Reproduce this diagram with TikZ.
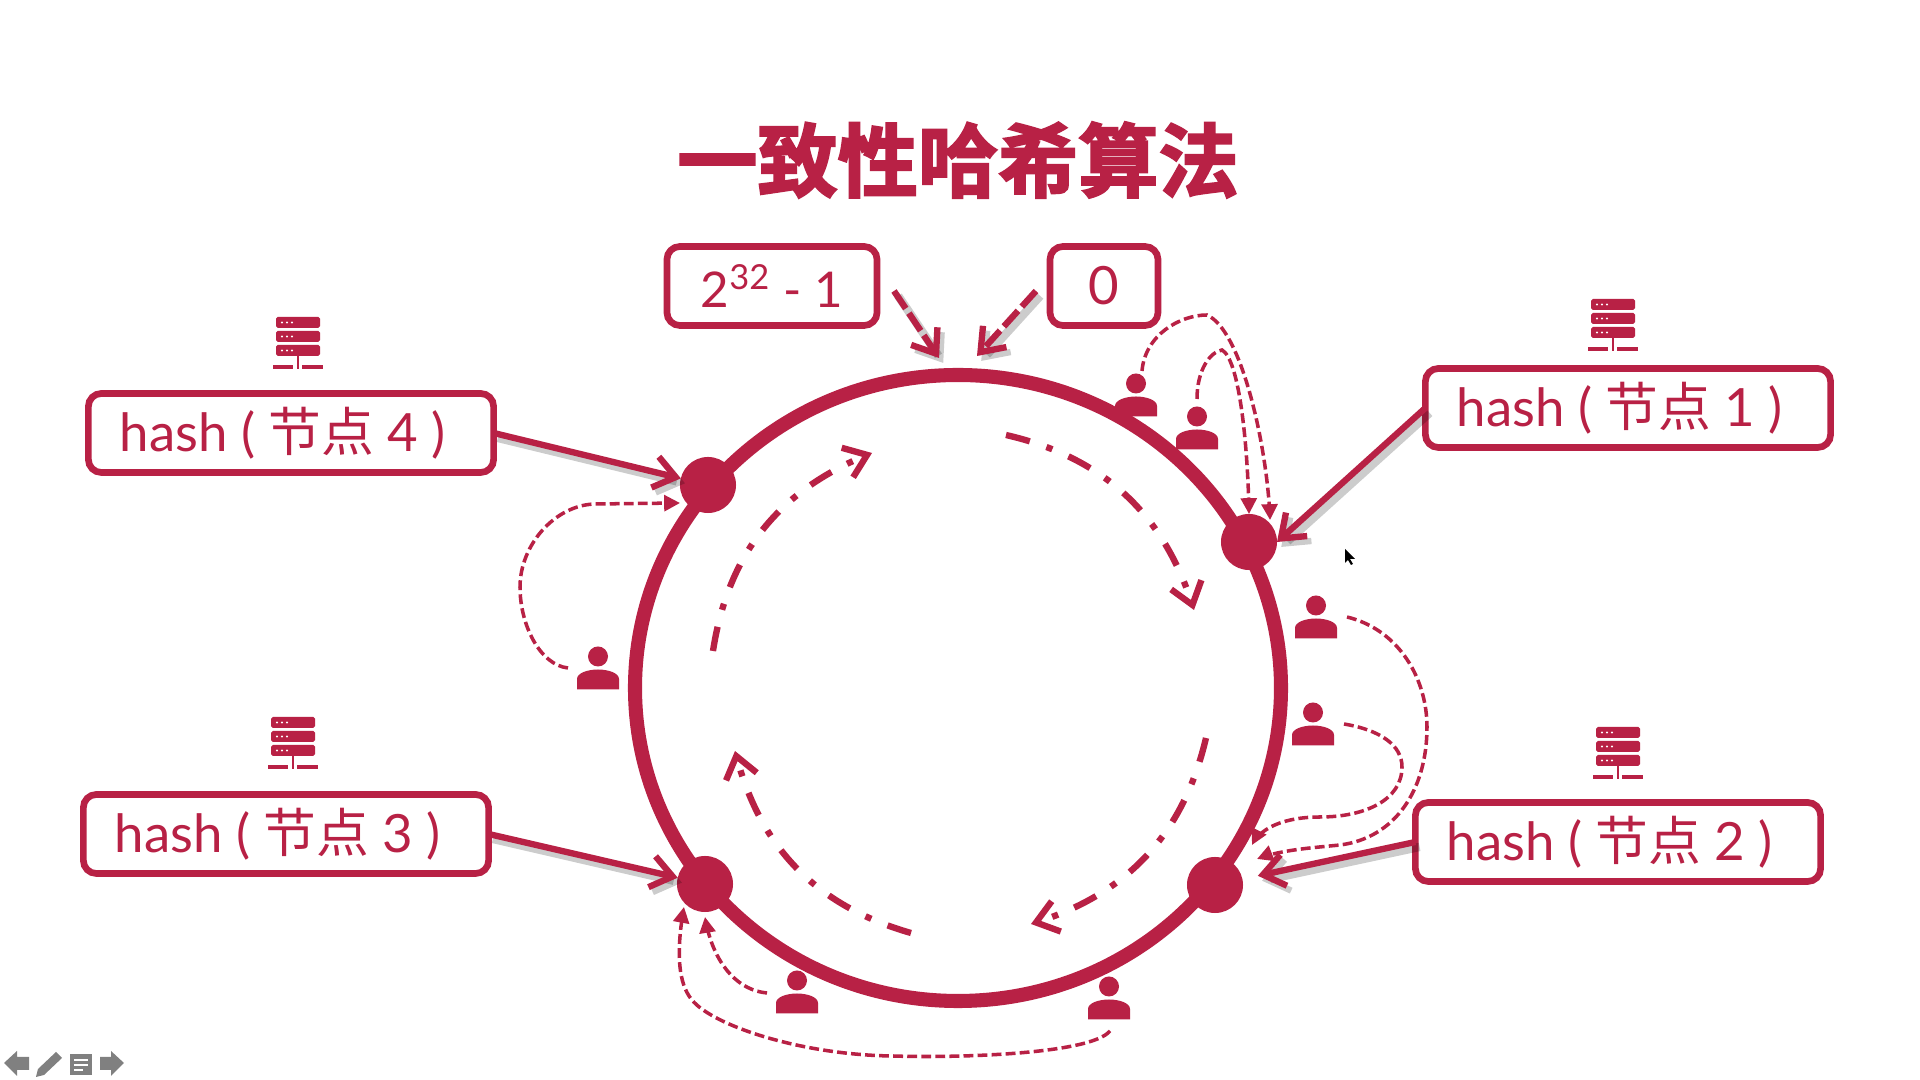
\documentclass[tikz,border=0pt]{standalone}
\usepackage{fontspec}
\setmainfont{Lato}
\newfontfamily\cjk{Noto Sans CJK SC}
\newfontfamily\cjktitle[FakeBold=2.6]{Noto Sans CJK SC Bold}
\usetikzlibrary{arrows.meta, bending}
\definecolor{ringred}{HTML}{B82145}

\tikzset{
  usericon/.pic={
    \fill[ringred] (0,-11.5) ellipse [x radius=10, y radius=10];
    \fill[ringred] (-21,21.5) -- (-21,11) .. controls (-21,5) and (-10,1.5) .. (0,1.5) .. controls (10,1.5) and (21,5) .. (21,11) -- (21,21.5) -- cycle;
  },
  servericon/.pic={
    \foreach \y in {-26,-12,2} {
      \fill[ringred, rounded corners=0.5pt] (-22,\y) rectangle (22,\y+11);
      \foreach \x in {-16,-11,-6} \fill[white] (\x,\y+5.5) circle (1.1);
    }
    \fill[ringred] (-1,13) rectangle (1,26);
    \fill[ringred] (-25,22) rectangle (-5,26); \fill[ringred] (4,22) rectangle (25,26);
    \fill[white] (-5,22) rectangle (-2,26); \fill[white] (2,22) rectangle (4,26);
  }
}

\begin{document}
\begin{tikzpicture}[x=0.01cm, y=-0.01cm,
    box/.style = {draw=ringred, line width=1.9pt, rounded corners=0.13cm, text=ringred, font=\fontsize{15}{18}\selectfont, minimum height=0.79cm, inner sep=0pt, outer sep=0pt},
    hashbox/.style = {box, minimum width=4.05cm},
    dot/.style = {circle, fill=ringred, minimum size=0.56cm, inner sep=0pt, outer sep=0pt},
    link/.style = {draw=ringred, line width=1.8pt, -{Straight Barb[length=6pt, width=9pt, line width=1.8pt, flex=0]}, preaction={draw=black, opacity=.2, line width=2.4pt, transform canvas={xshift=1.2pt, yshift=-1.4pt}}},
    markarrow/.style = {link, dash pattern=on 6pt off 1.6pt},
    flow/.style = {draw=ringred, line width=1.8pt, dash pattern=on 7pt off 5pt on 1.8pt off 5pt, -{Straight Barb[length=6pt, width=9pt, line width=1.8pt, flex=0]}},
    req/.style = {draw=ringred, line width=1pt, dash pattern=on 2.8pt off 1.2pt, -{Triangle[length=4.5pt, width=4.5pt, flex=0]}}]
  \useasboundingbox (0,0) rectangle (1920,1080);
  \fill[white] (0,0) rectangle (1920,1080);

  \node[text=ringred, font=\cjktitle\fontsize{22.8}{27}\selectfont, inner sep=0pt] (title) at (958,160) {一致性哈希算法};

  \draw[ringred, line width=4pt] (958,688) ellipse [x radius=323, y radius=313];
  \node[dot] (n1) at (1249,542) {}; \node[dot] (n2) at (1215,885) {};
  \node[dot] (n3) at (705,884) {}; \node[dot] (n4) at (708,485) {};

  \node[hashbox] (hash1) at (1628,408) {hash ( {\cjk 节点} 1 )\kern4.6pt};
  \node[hashbox] (hash2) at (1618,842) {hash ( {\cjk 节点} 2 )\kern4.6pt};
  \node[hashbox] (hash3) at (286,834) {hash ( {\cjk 节点} 3 )\kern4.6pt};
  \node[hashbox] (hash4) at (291,433) {hash ( {\cjk 节点} 4 )\kern4.6pt};
  \node[box, minimum width=2.1cm, font=\fontsize{14}{18}\selectfont] (top) at (772,286) {2\textsuperscript{32} - 1};
  \node[box, minimum width=1.08cm] (zero) at (1104,286) {0};

  \pic at (1613,325) {servericon}; \pic at (1618,753) {servericon};
  \pic at (293,743) {servericon}; \pic at (298,343) {servericon};

  \draw[link] (hash1.west) -- (n1.east);
  \draw[link, shorten >=4.5pt] (hash2.west) -- (n2);
  \draw[link] (hash3.east) -- (n3);
  \draw[link] (hash4.east) -- (n4);

  \coordinate (tops) at (894,291); \coordinate (tope) at (939,358);
  \coordinate (zeros) at (1036,291); \coordinate (zeroe) at (977,356);
  \draw[markarrow] (tops) -- (tope);
  \draw[markarrow] (zeros) -- (zeroe);

  \coordinate (f1a) at (1006,435); \coordinate (f1b) at (1194,610);
  \coordinate (f2a) at (1206,738); \coordinate (f2b) at (1031,924);
  \coordinate (f3a) at (911,933); \coordinate (f3b) at (735,751);
  \coordinate (f4a) at (713,651); \coordinate (f4b) at (872,453);
  \draw[flow] (f1a) to[bend left=30] (f1b);
  \draw[flow] (f2a) to[bend left=30] (f2b);
  \draw[flow] (f3a) to[bend left=30] (f3b);
  \draw[flow] (f4a) to[bend left=30] (f4b);

  \pic at (1136,395) {usericon}; \pic at (1197,428) {usericon}; \pic at (1316,617) {usericon};
  \pic at (1313,724) {usericon}; \pic at (598,668) {usericon}; \pic at (797,992) {usericon}; \pic at (1109,998) {usericon};

  \coordinate (u1) at (1142,371); \coordinate (u2) at (1197,399); \coordinate (u3) at (1347,617);
  \coordinate (u4) at (1344,724); \coordinate (u5) at (568,668); \coordinate (u6) at (767,993); \coordinate (u7) at (1110,1031);
  \coordinate (p1) at (1270,520); \coordinate (p2) at (1249,514); \coordinate (p3) at (1257,859);
  \coordinate (p4) at (1252,845); \coordinate (p5) at (680,503); \coordinate (p6) at (705,917); \coordinate (p7) at (684,907);
  \draw[req] (u1) .. controls (1145,335) and (1180,315) .. (1207,315) .. controls (1243,331) and (1268,453) .. (p1);
  \draw[req] (u2) .. controls (1197,370) and (1210,352) .. (1222,350) .. controls (1240,360) and (1248,450) .. (p2);
  \draw[req] (u3) .. controls (1400,630) and (1427,680) .. (1427,727) .. controls (1427,790) and (1395,838) .. (1340,845) .. controls (1310,848) and (1280,850) .. (p3);
  \draw[req] (u4) .. controls (1380,730) and (1402,745) .. (1402,767) .. controls (1402,800) and (1365,817) .. (1320,817) .. controls (1290,817) and (1262,825) .. (p4);
  \draw[req] (u5) .. controls (540,665) and (520,625) .. (520,587) .. controls (520,545) and (555,505) .. (595,504) -- (p5);
  \draw[req] (u6) .. controls (735,990) and (712,960) .. (p6);
  \draw[req] (u7) .. controls (1090,1055) and (950,1058) .. (893,1056) .. controls (800,1055) and (712,1025) .. (692,1000) .. controls (675,980) and (678,940) .. (p7);

  \fill[black] (1345,549) -- (1345,563) -- (1348,560) -- (1351,565) -- (1353,564) -- (1350,559) -- (1355,559) -- cycle;

  \fill[gray] (4,1063) -- (17,1051) -- (17,1057) -- (29,1057) -- (29,1070) -- (17,1070) -- (17,1076) -- cycle;
  \fill[gray] (36,1077) -- (38,1069) -- (56,1052) -- (62,1058) -- (44,1075) -- cycle;
  \fill[gray] (70,1054) rectangle (92,1075);
  \fill[white] (74,1059) rectangle (88,1061); \fill[white] (74,1064) rectangle (88,1066); \fill[white] (74,1069) rectangle (83,1071);
  \fill[gray] (124,1063) -- (111,1051) -- (111,1057) -- (100,1057) -- (100,1070) -- (111,1070) -- (111,1076) -- cycle;
\end{tikzpicture}
\end{document}
